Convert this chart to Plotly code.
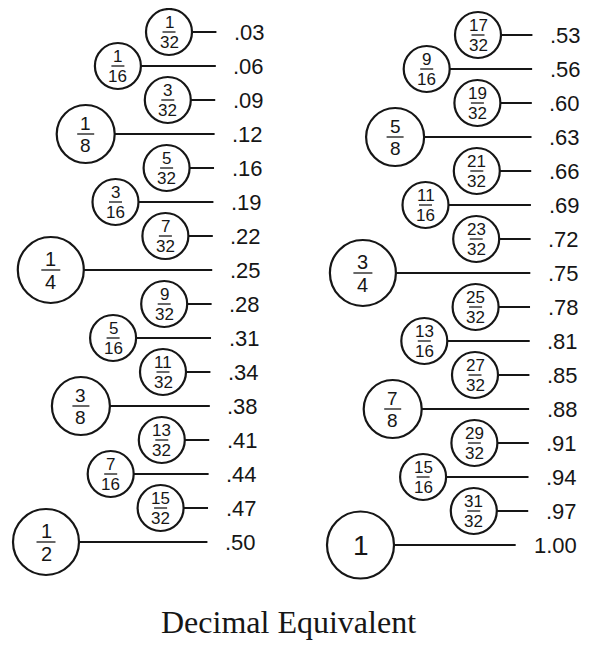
import plotly.graph_objects as go

# ---------------- data ----------------
left_num = [1, 1, 3, 1, 5, 3, 7, 1, 9, 5, 11, 3, 13, 7, 15, 1]
left_den = [32, 16, 32, 8, 32, 16, 32, 4, 32, 16, 32, 8, 32, 16, 32, 2]
left_dec = [".03", ".06", ".09", ".12", ".16", ".19", ".22", ".25",
            ".28", ".31", ".34", ".38", ".41", ".44", ".47", ".50"]

right_num = [17, 9, 19, 5, 21, 11, 23, 3, 25, 13, 27, 7, 29, 15, 31, 1]
right_den = [32, 16, 32, 8, 32, 16, 32, 4, 32, 16, 32, 8, 32, 16, 32, 1]
right_dec = [".53", ".56", ".60", ".63", ".66", ".69", ".72", ".75",
             ".78", ".81", ".85", ".88", ".91", ".94", ".97", "1.00"]

title_text = "Decimal Equivalent"

# ---------------- styles / layout ----------------
VIEW_W, VIEW_H = 595, 646
OFF = 8                      # default page margin around the plot div
W, H = VIEW_W - OFF, VIEW_H - OFF
PX_PER_UNIT = 1088.0         # vertical pixels per unit of fraction value

circ_size = {32: 46, 16: 46, 8: 58, 4: 66, 2: 66, 1: 67}
frac_font = {32: 17, 16: 17, 8: 19, 4: 20, 2: 20, 1: 28}
bar_w = {32: 13, 16: 13, 8: 17, 4: 19, 2: 19, 1: 0}

col_cfg = {
    "left": dict(cx={32: 169, 16: 118.5, 8: 87.5, 4: 55, 2: 55},
                 text_right=267, drift=0.6, yref="y",
                 top_px=32, first=1 / 32),
    "right": dict(cx={32: 478, 16: 427, 8: 396, 4: 365, 1: 365},
                  text_right=583, drift=0.3, yref="y2",
                  top_px=35, first=17 / 32),
}
GAP = 20
DEC_FONT = 22
FONT = "Liberation Sans, Arial, sans-serif"
NARROW = "Liberation Sans Narrow, Arial Narrow, Liberation Sans, sans-serif"
INK = "#161616"


def text_w(s, fs):
    return sum((0.278 if ch == "." else 0.556) for ch in s) * fs


fig = go.Figure()
annotations = []
shapes = []

columns = [("left", left_num, left_den, left_dec),
           ("right", right_num, right_den, right_dec)]

for name, nums, dens, decs in columns:
    cfg = col_cfg[name]
    yref = cfg["yref"]
    yaxis_name = "y" if yref == "y" else "y2"
    lx, ly = [], []
    mx, my, ms = [], [], []
    for i, (n, d, lab) in enumerate(zip(nums, dens, decs)):
        v = n / d
        shift = cfg["drift"] * i
        cx = cfg["cx"][d] - shift
        tr = cfg["text_right"] - shift
        lend = tr - text_w(lab, DEC_FONT) - GAP
        lx += [cx, lend, None]
        ly += [v, v, None]
        mx.append(cx)
        my.append(v)
        ms.append(circ_size[d])
        annotations.append(dict(x=tr, y=v, xref="x", yref=yref, text=lab,
                                showarrow=False, xanchor="right", yanchor="middle",
                                font=dict(family=FONT, size=DEC_FONT, color=INK)))
        if d == 1:
            annotations.append(dict(x=cx, y=v, xref="x", yref=yref, text=str(n),
                                    showarrow=False, xanchor="center", yanchor="middle",
                                    font=dict(family=FONT, size=frac_font[d], color=INK)))
        else:
            ff = NARROW if d >= 16 else FONT
            fs = frac_font[d]
            annotations.append(dict(x=cx, y=v, xref="x", yref=yref, text=str(n),
                                    showarrow=False, xanchor="center", yanchor="bottom",
                                    borderpad=0, yshift=-1,
                                    font=dict(family=ff, size=fs, color=INK)))
            annotations.append(dict(x=cx, y=v, xref="x", yref=yref, text=str(d),
                                    showarrow=False, xanchor="center", yanchor="top",
                                    borderpad=0, yshift=0,
                                    font=dict(family=ff, size=fs, color=INK)))
            bw = bar_w[d]
            shapes.append(dict(type="line", xref="x", yref=yref,
                               x0=cx - bw / 2, x1=cx + bw / 2, y0=v, y1=v,
                               line=dict(color=INK, width=1.3)))
    fig.add_trace(go.Scatter(x=lx, y=ly, mode="lines", yaxis=yaxis_name,
                             line=dict(color=INK, width=2), hoverinfo="skip",
                             showlegend=False))
    fig.add_trace(go.Scatter(x=mx, y=my, mode="markers", yaxis=yaxis_name,
                             marker=dict(symbol="circle", size=ms, color="white",
                                         opacity=1,
                                         line=dict(color=INK, width=2.2)),
                             hoverinfo="skip", showlegend=False, cliponaxis=False))


def yrange(cfg):
    # screen pixel of the plot's top edge is OFF
    top = cfg["first"] - (cfg["top_px"] - OFF) / PX_PER_UNIT
    bottom = top + H / PX_PER_UNIT
    return [bottom, top]


annotations.append(dict(x=(288 - OFF) / W, y=1 - (622 - OFF) / H,
                        xref="paper", yref="paper",
                        text=title_text, showarrow=False, xanchor="center",
                        yanchor="middle",
                        font=dict(family="Liberation Serif, Times New Roman, serif",
                                  size=32, color=INK)))

axis_off = dict(visible=False, showgrid=False, zeroline=False, fixedrange=True)
fig.update_layout(
    width=W, height=H,
    margin=dict(l=0, r=0, t=0, b=0),
    paper_bgcolor="white", plot_bgcolor="white",
    xaxis=dict(range=[OFF, VIEW_W], domain=[0, 1], **axis_off),
    yaxis=dict(range=yrange(col_cfg["left"]), domain=[0, 1], **axis_off),
    yaxis2=dict(range=yrange(col_cfg["right"]), overlaying="y", **axis_off),
    annotations=annotations,
    shapes=shapes,
    hovermode=False,
    showlegend=False,
)

fig.write_html("out.html")
